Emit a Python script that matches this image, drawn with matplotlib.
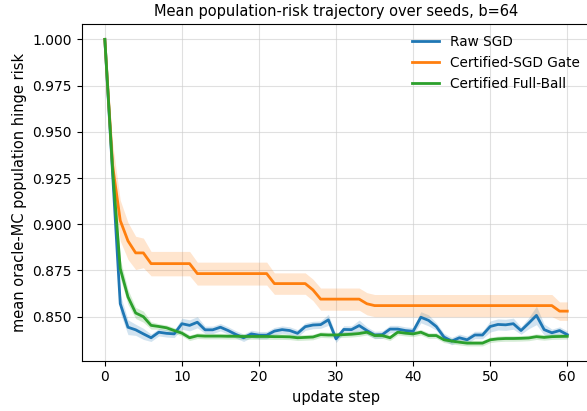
import matplotlib
matplotlib.use("Agg")
import matplotlib.pyplot as plt
import numpy as np

steps = list(range(61))

raw_sgd = [1.000, 0.928, 0.857, 0.8443, 0.8429, 0.8407, 0.8386, 0.8416, 0.8410, 0.8407,
           0.8462, 0.8453, 0.8470, 0.8429, 0.8429, 0.8443, 0.8425, 0.8404, 0.8386, 0.8407,
           0.8400, 0.8400, 0.8422, 0.8430, 0.8425, 0.8410, 0.8446, 0.8455, 0.8457, 0.8483,
           0.8380, 0.8431, 0.8430, 0.8452, 0.8425, 0.8401, 0.8403, 0.8433, 0.8433, 0.8425,
           0.8421, 0.8497, 0.8480, 0.8447, 0.8390, 0.8368, 0.8386, 0.8375, 0.8401, 0.8401,
           0.8447, 0.8458, 0.8456, 0.8462, 0.8425, 0.8465, 0.8507, 0.8430, 0.8413, 0.8425,
           0.8403]
raw_sgd_err = [0.000, 0.010, 0.005, 0.004, 0.003, 0.003, 0.002, 0.002, 0.002, 0.002,
               0.003, 0.003, 0.003, 0.002, 0.002, 0.002, 0.002, 0.002, 0.002, 0.002,
               0.002, 0.002, 0.002, 0.002, 0.002, 0.002, 0.002, 0.002, 0.002, 0.003,
               0.002, 0.002, 0.002, 0.003, 0.002, 0.002, 0.002, 0.002, 0.002, 0.002,
               0.002, 0.003, 0.003, 0.002, 0.002, 0.002, 0.002, 0.002, 0.002, 0.002,
               0.003, 0.003, 0.003, 0.003, 0.002, 0.003, 0.005, 0.003, 0.002, 0.002,
               0.002]

gate = [1.000, 0.932, 0.902, 0.891, 0.8845, 0.8845, 0.8787, 0.8787, 0.8787, 0.8787,
        0.8787, 0.8787, 0.8733, 0.8733, 0.8733, 0.8733, 0.8733, 0.8733, 0.8733, 0.8733,
        0.8733, 0.8733, 0.8679, 0.8679, 0.8679, 0.8679, 0.8679, 0.8645, 0.8595, 0.8595,
        0.8595, 0.8595, 0.8595, 0.8595, 0.8570, 0.8560, 0.8560, 0.8560, 0.8560, 0.8560,
        0.8560, 0.8560, 0.8560, 0.8560, 0.8560, 0.8560, 0.8560, 0.8560, 0.8560, 0.8560,
        0.8560, 0.8560, 0.8560, 0.8560, 0.8560, 0.8560, 0.8560, 0.8560, 0.8560, 0.8530,
        0.8530]
gate_err = [0.000, 0.012, 0.011, 0.010, 0.009, 0.008, 0.0066, 0.0066, 0.0066, 0.0066,
            0.0066, 0.0066, 0.0062, 0.0062, 0.0062, 0.0062, 0.0062, 0.0062, 0.0062, 0.0062,
            0.0062, 0.0062, 0.0058, 0.0058, 0.0058, 0.0058, 0.0058, 0.0058, 0.0060, 0.0060,
            0.0060, 0.0060, 0.0060, 0.0060, 0.0060, 0.0060, 0.0060, 0.0060, 0.0060, 0.0060,
            0.0060, 0.0060, 0.0060, 0.0060, 0.0060, 0.0060, 0.0060, 0.0060, 0.0060, 0.0060,
            0.0060, 0.0060, 0.0060, 0.0060, 0.0060, 0.0060, 0.0060, 0.0060, 0.0060, 0.0050,
            0.0050]

full_ball = [1.000, 0.930, 0.876, 0.8607, 0.8520, 0.8500, 0.8453, 0.8447, 0.8440, 0.8425,
             0.8411, 0.8386, 0.8397, 0.8395, 0.8395, 0.8395, 0.8394, 0.8394, 0.8393, 0.8393,
             0.8393, 0.8393, 0.8392, 0.8392, 0.8391, 0.8386, 0.8388, 0.8390, 0.8403, 0.8401,
             0.8401, 0.8403, 0.8405, 0.8409, 0.8416, 0.8398, 0.8398, 0.8386, 0.8416, 0.8411,
             0.8407, 0.8416, 0.8398, 0.8398, 0.8375, 0.8368, 0.8362, 0.8357, 0.8357, 0.8357,
             0.8375, 0.8380, 0.8382, 0.8382, 0.8383, 0.8385, 0.8392, 0.8388, 0.8392, 0.8393,
             0.8394]
full_ball_err = [0.000, 0.010, 0.005, 0.004, 0.003, 0.003, 0.002, 0.0015, 0.0015, 0.0015,
                 0.0015, 0.0015, 0.0015, 0.0015, 0.0015, 0.0015, 0.0015, 0.0015, 0.0015, 0.0015,
                 0.0015, 0.0015, 0.0015, 0.0015, 0.0015, 0.0015, 0.0015, 0.0015, 0.0015, 0.0015,
                 0.0015, 0.0015, 0.0015, 0.0015, 0.0015, 0.0015, 0.0015, 0.0015, 0.0015, 0.0015,
                 0.0015, 0.0015, 0.0015, 0.0015, 0.0015, 0.0015, 0.0015, 0.0015, 0.0015, 0.0015,
                 0.0015, 0.0015, 0.0015, 0.0015, 0.0015, 0.0015, 0.0015, 0.0015, 0.0015, 0.0015,
                 0.0015]

series = [
    ("Raw SGD", raw_sgd, raw_sgd_err, "#1f77b4"),
    ("Certified-SGD Gate", gate, gate_err, "#ff7f0e"),
    ("Certified Full-Ball", full_ball, full_ball_err, "#2ca02c"),
]

fig = plt.figure(figsize=(5.87, 4.11), dpi=100)
ax = fig.add_axes([0.1392, 0.1224, 0.8666, 0.8192])

x = np.array(steps)
for label, mean, err, color in series:
    mean = np.array(mean)
    err = np.array(err)
    ax.fill_between(x, mean - err, mean + err, color=color, alpha=0.2, linewidth=0)
    ax.plot(x, mean, color=color, linewidth=2, label=label)

ax.set_xlim(-3, 63)
ax.set_ylim(0.8262, 1.0083)
ax.set_xticks([0, 10, 20, 30, 40, 50, 60])
ax.set_yticks([0.850, 0.875, 0.900, 0.925, 0.950, 0.975, 1.000])
ax.yaxis.set_major_formatter(matplotlib.ticker.FormatStrFormatter('%.3f'))
ax.grid(True, color='#cccccc', alpha=0.6, linewidth=0.8)
ax.set_axisbelow(True)

ax.set_title("Mean population-risk trajectory over seeds, b=64", fontsize=10.5)
ax.set_xlabel("update step", fontsize=10.5)
ax.set_ylabel("mean oracle-MC population hinge risk", fontsize=10.5)
ax.legend(loc='upper right', frameon=False, fontsize=9.8, borderaxespad=0.4)

fig.savefig("out.png", dpi=100)
